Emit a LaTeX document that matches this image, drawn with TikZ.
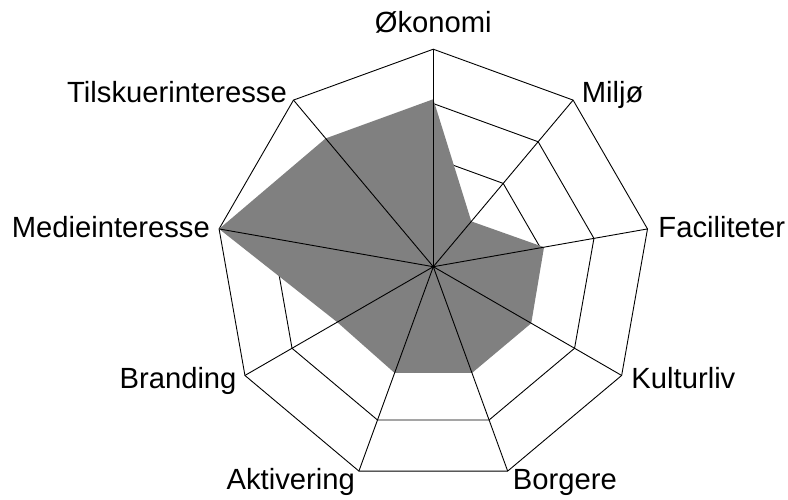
\documentclass[tikz,border=0pt]{standalone}
\usepackage{fontspec}
\setmainfont{Liberation Sans}
\definecolor{areafill}{RGB}{128,128,128}
\begin{document}
\begin{tikzpicture}[x=1pt,y=1pt,
  gridline/.style={line width=0.9pt,black,line join=miter},
  lbl/.style={inner sep=0pt,font=\fontsize{29.2}{35}\selectfont}]
\useasboundingbox (-433.3,-232.3) rectangle (354.7,266.7);
\def\R{217.5}
\coordinate (O) at (0,0);
\foreach \a [count=\i] in {90,50,10,-30,-70,-110,-150,170,130}
  \coordinate (v\i) at (\a:\R);
% rings
\foreach \f in {0.5,0.75,1}
  \draw[gridline] (90:\f*\R) -- (50:\f*\R) -- (10:\f*\R) -- (-30:\f*\R) -- (-70:\f*\R)
    -- (-110:\f*\R) -- (-150:\f*\R) -- (170:\f*\R) -- (130:\f*\R) -- cycle;
% data area
\fill[areafill] (90:0.77*\R) -- (50:0.272*\R) -- (10:0.517*\R) -- (-30:0.52*\R)
  -- (-70:0.52*\R) -- (-110:0.52*\R) -- (-150:0.51*\R) -- (170:1.0*\R)
  -- (130:0.77*\R) -- cycle;
% axes
\foreach \i in {1,...,9}
  \draw[gridline] (O) -- (v\i);
% labels
\node[lbl,anchor=base] (l1) at (0,234.3) {Økonomi};
\node[lbl,anchor=base west] (l2) at (148.4,164) {Miljø};
\node[lbl,anchor=base west] (l3) at (225,29.3) {Faciliteter};
\node[lbl,anchor=base west] (l4) at (198,-121.5) {Kulturliv};
\node[lbl,anchor=base west] (l5) at (79.4,-223.2) {Borgere};
\node[lbl,anchor=base east] (l6) at (-78.3,-223.2) {Aktivering};
\node[lbl,anchor=base east] (l7) at (-196.6,-121.5) {Branding};
\node[lbl,anchor=base east] (l8) at (-223.3,29.3) {Medieinteresse};
\node[lbl,anchor=base east] (l9) at (-146.3,164) {Tilskuerinteresse};
\end{tikzpicture}
\end{document}
